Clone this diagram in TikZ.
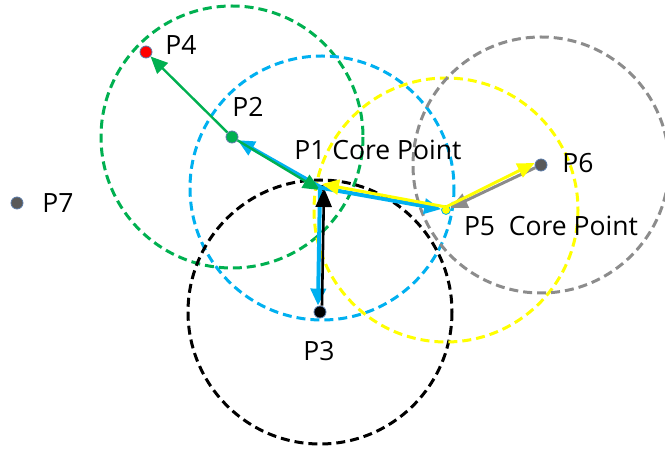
\documentclass[tikz,border=0pt]{standalone}
\usepackage{fontspec}
\setmainfont{Open Sans}
\usetikzlibrary{arrows.meta}
\definecolor{cgreen}{HTML}{00B050}
\definecolor{cblue}{HTML}{00B0F0}
\definecolor{cyellow}{HTML}{FFFF00}
\definecolor{cgray}{HTML}{8C8C8C}
\definecolor{cdark}{HTML}{595959}
\definecolor{cedge}{HTML}{5B7BA8}
\tikzset{
  ring/.style={line width=3pt, dash pattern=on 9pt off 5pt},
  dot/.style={circle, inner sep=0pt, minimum size=12pt, draw=cedge, line width=0.8pt},
  lbl/.style={font=\fontsize{26.5}{30}\selectfont, text=black, inner sep=0pt},
  head/.style={-{Triangle[length=17pt,width=15pt]}},
  bighead/.style={-{Triangle[length=19pt,width=16pt]}},
}
\begin{document}
\begin{tikzpicture}[x=1pt,y=-1pt]
\useasboundingbox (0,0) rectangle (665,454);
% points
\coordinate (c1) at (322,188);
\coordinate (c2) at (232,137);
\coordinate (c3) at (320,312);
\coordinate (c4) at (146,52);
\coordinate (c5) at (446,210);
\coordinate (c6) at (541,165);
\coordinate (c7) at (17,203);
% circles
\draw[ring, cgreen] (c2) circle[radius=131];
\draw[ring, cblue] (c1) circle[radius=132];
\draw[ring, black] (c3) circle[radius=132];
\draw[ring, cyellow] (c5) circle[radius=132];
\draw[ring, cgray] (c6) circle[radius=128];
% dots
\node[dot, fill=cgreen] (p2) at (c2) {};
\node[dot, fill=black] (p3) at (c3) {};
\node[dot, fill=red] (p4) at (c4) {};
\node[dot, fill=cyellow, minimum size=9pt, draw=cblue] (p5) at (c5) {};
\node[dot, fill=cdark] (p6) at (c6) {};
\node[dot, fill=cdark] (p7) at (c7) {};
\node[circle, fill=black, inner sep=0pt, minimum size=6pt] (p1) at (c1) {};
% arrows
\draw[head, cblue, line width=4pt] (p1.center) -- (p2);
\draw[head, cgreen, line width=2.4pt] (p2) -- (p4);
\draw[head, cgreen, line width=2.4pt] (p2) -- ([xshift=-2pt,yshift=-2pt]p1.center);
\draw[head, cblue, line width=4pt] ([xshift=-2pt]p1.center) -- ([xshift=-2pt]p3.north);
\draw[bighead, black, line width=2.6pt] ([xshift=2pt]p3.north) -- ([xshift=2pt]p1.center);
\draw[head, cblue, line width=4pt] (p1.center) -- (p5);
\draw[head, cyellow, line width=3pt] ([yshift=3pt]p5.center) -- ([yshift=4pt]p1.center);
\draw[head, cgray, line width=3pt] (p6) -- (p5);
\draw[head, cyellow, line width=3pt] ([yshift=3pt]p5.center) -- ([yshift=2pt]p6.west);
% labels
\node[lbl] (l4) at (181,45) {P4};
\node[lbl] (l2) at (248,107) {P2};
\node[lbl] (l1) at (378,150) {P1 Core Point};
\node[lbl] (l6) at (578,163) {P6};
\node[lbl] (l7) at (58,203) {P7};
\node[lbl] (l5) at (551,226) {P5\ \ Core Point};
\node[lbl] (l3) at (319,351) {P3};
\end{tikzpicture}
\end{document}
